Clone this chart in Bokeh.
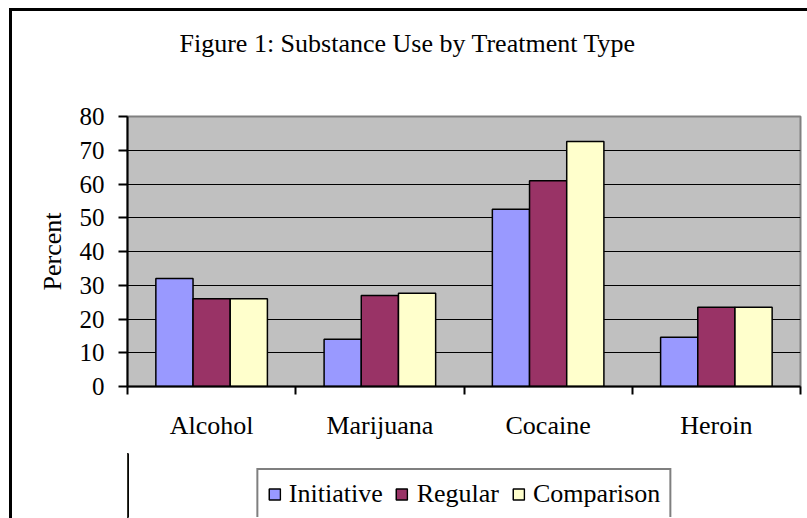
from bokeh.plotting import figure
from bokeh.layouts import column
from bokeh.models import (ColumnDataSource, Range1d, FixedTicker, Legend, LegendItem,
                          LinearAxis)
from bokeh.transform import dodge
from bokeh.embed import file_html
from bokeh.resources import INLINE

# Survey results: percent reporting use of each substance, by treatment type
categories = ["Alcohol", "Marijuana", "Cocaine", "Heroin"]
initiative = [32, 14, 52.5, 14.6]
regular = [26, 27, 61, 23.5]
comparison = [26, 27.6, 72.6, 23.5]
y_ticks = [0, 10, 20, 30, 40, 50, 60, 70, 80]

series = [
    ("Initiative", initiative, "#9999FF"),
    ("Regular", regular, "#993366"),
    ("Comparison", comparison, "#FFFFCC"),
]

FONT = "Liberation Serif"

# category slots: each category occupies one unit on the x scale, centred at i + 0.5
centers = [i + 0.5 for i in range(len(categories))]
source = ColumnDataSource(dict(
    pos=centers, cat=categories,
    initiative=initiative, regular=regular, comparison=comparison,
))

p = figure(width=795, height=448, frame_width=673, frame_height=270,
           output_backend="svg", toolbar_location=None,
           x_range=Range1d(0, len(categories)), y_range=Range1d(0, 80),
           min_border_left=115, min_border_right=7,
           min_border_top=105, min_border_bottom=0,
           background_fill_color="#C0C0C0", border_fill_color="white",
           x_axis_location=None, y_axis_location=None)
p.outline_line_color = "#808080"
p.outline_line_width = 2

# title; the trailing blank line with a tall line height lifts it away from the plot
p.title.text = "Figure 1: Substance Use by Treatment Type\n"
p.title.text_font = FONT
p.title.text_font_size = "26px"
p.title.text_font_style = "normal"
p.title.text_color = "black"
p.title.text_line_height = 1.85
p.title.align = "left"
p.title.offset = 52
p.title.standoff = 10

bar_w = 0.221
offsets = [-bar_w, 0.0, bar_w]
for (name, vals, color), off in zip(series, offsets):
    p.vbar(x=dodge("pos", off, range=p.x_range), top=name.lower(), width=bar_w,
           source=source, fill_color=color, line_color="black", line_width=1.5)

# y axis
yax = LinearAxis(ticker=FixedTicker(ticks=y_ticks))
yax.axis_line_color = "black"
yax.axis_line_width = 2
yax.major_tick_line_color = "black"
yax.major_tick_line_width = 2
yax.major_tick_in = 0
yax.major_tick_out = 9
yax.minor_tick_line_color = None
yax.major_label_standoff = 14
yax.major_label_text_font = FONT
yax.major_label_text_font_size = "25px"
yax.major_label_text_color = "black"
yax.axis_label = "Percent"
yax.axis_label_text_font = FONT
yax.axis_label_text_font_size = "26px"
yax.axis_label_text_font_style = "normal"
yax.axis_label_text_color = "black"
yax.axis_label_standoff = 10
p.add_layout(yax, "left")

# x axis: labels at category centres, tick marks at the category boundaries
xax = LinearAxis(ticker=FixedTicker(ticks=centers,
                                    minor_ticks=list(range(len(categories) + 1))))
xax.major_label_overrides = {c: name for c, name in zip(centers, categories)}
xax.axis_line_color = "black"
xax.axis_line_width = 2
xax.major_tick_line_color = None
xax.major_tick_in = 0
xax.major_tick_out = 0
xax.minor_tick_line_color = "black"
xax.minor_tick_line_width = 2
xax.minor_tick_in = 0
xax.minor_tick_out = 8
xax.major_label_standoff = 16
xax.major_label_text_font = FONT
xax.major_label_text_font_size = "26px"
xax.major_label_text_color = "black"
p.add_layout(xax, "below")

p.xgrid.grid_line_color = None
p.ygrid.ticker = FixedTicker(ticks=y_ticks[1:-1])
p.ygrid.grid_line_color = "black"
p.ygrid.grid_line_width = 1

# legend strip beneath the chart, same horizontal borders as the chart above
leg = figure(width=795, height=66, output_backend="svg", toolbar_location=None,
             x_range=Range1d(10, 11), y_range=Range1d(0, 1),
             min_border_left=115, min_border_right=7, min_border_top=1, min_border_bottom=1,
             background_fill_color="white", border_fill_color="white",
             x_axis_location=None, y_axis_location=None)
leg.outline_line_color = None
leg.grid.visible = False
leg.styles = {"margin-top": "10px"}

# swatch renderers share the chart data; their bars fall outside this strip's x range
swatches = []
for name, vals, color in series:
    r = leg.vbar(x="pos", top=name.lower(), width=bar_w, source=source,
                 fill_color=color, line_color="black", line_width=1.5)
    swatches.append(LegendItem(label=name, renderers=[r]))

legend = Legend(items=swatches, orientation="horizontal", location="top_center")
legend.label_text_font = FONT
legend.label_text_font_size = "26px"
legend.label_text_color = "black"
legend.glyph_width = 14
legend.glyph_height = 14
legend.label_standoff = 8
legend.spacing = 12
legend.padding = 9
legend.margin = 15
legend.border_line_color = "black"
legend.border_line_width = 2
legend.background_fill_color = "white"
legend.background_fill_alpha = 1
leg.add_layout(legend)

# chart border on the left and top edges
layout = column(p, leg, styles={"margin-left": "9px", "margin-top": "8px",
                                "border-left": "3px solid black",
                                "border-top": "3px solid black"})

open("out.html", "w").write(file_html(layout, INLINE))
